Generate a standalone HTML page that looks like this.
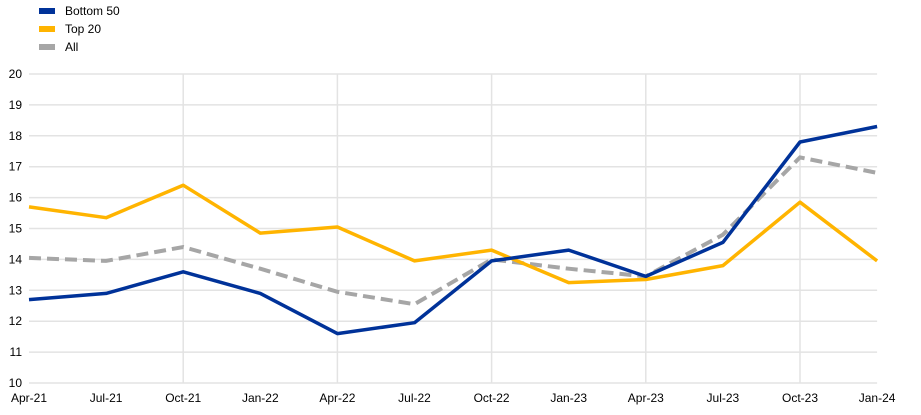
<!DOCTYPE html>
<html><head><meta charset="utf-8"><style>
body{margin:0;background:#fff;width:921px;height:410px;overflow:hidden;font-family:"Liberation Sans",Arial,sans-serif}
</style></head><body>
<svg id="c" width="921" height="410" xmlns="http://www.w3.org/2000/svg" font-family="Liberation Sans, Arial, sans-serif" font-size="12" fill="#000"></svg>
<script>
const s=document.getElementById('c');
const x0=29,st=77.1,yb=383,yu=30.9;
const X=i=>x0+i*st,Y=v=>yb-(v-10)*yu;
let h='';
for(let v=10;v<=20;v++){h+=`<line x1="${x0}" x2="${X(11)}" y1="${Y(v)}" y2="${Y(v)}" stroke="#e3e3e3" stroke-width="1.5"/>`;
h+=`<text x="22" y="${Y(v)+4}" text-anchor="end">${v}</text>`;}
[2,4,6,8,10].forEach(i=>h+=`<line x1="${X(i)}" x2="${X(i)}" y1="${Y(20)}" y2="${yb}" stroke="#e3e3e3" stroke-width="1.5"/>`);
const lab=['Apr-21','Jul-21','Oct-21','Jan-22','Apr-22','Jul-22','Oct-22','Jan-23','Apr-23','Jul-23','Oct-23','Jan-24'];
lab.forEach((l,i)=>h+=`<text x="${X(i)}" y="402" text-anchor="middle">${l}</text>`);
const b=[12.7,12.9,13.6,12.9,11.6,11.95,13.95,14.3,13.45,14.55,17.8,18.3];
const t=[15.7,15.35,16.4,14.85,15.05,13.95,14.3,13.25,13.35,13.8,15.85,13.95];
const a=[14.05,13.95,14.4,13.7,12.95,12.55,14.0,13.7,13.45,14.8,17.3,16.8];
const P=d=>d.map((v,i)=>X(i).toFixed(1)+','+Y(v).toFixed(1)).join(' ');
h+=`<polyline points="${P(a)}" fill="none" stroke="#a6a6a6" stroke-width="4" stroke-dasharray="12,6"/>`;
h+=`<polyline points="${P(t)}" fill="none" stroke="#ffb400" stroke-width="3.5" stroke-linejoin="round"/>`;
h+=`<polyline points="${P(b)}" fill="none" stroke="#003299" stroke-width="3.5" stroke-linejoin="round"/>`;
[['Bottom 50','#003299'],['Top 20','#ffb400'],['All','#a6a6a6']].forEach((e,i)=>{
h+=`<rect x="39" y="${8+i*18}" width="16" height="6" fill="${e[1]}"/><text x="65" y="${15+i*18}">${e[0]}</text>`;});
s.innerHTML=h;
</script>
</body></html>
